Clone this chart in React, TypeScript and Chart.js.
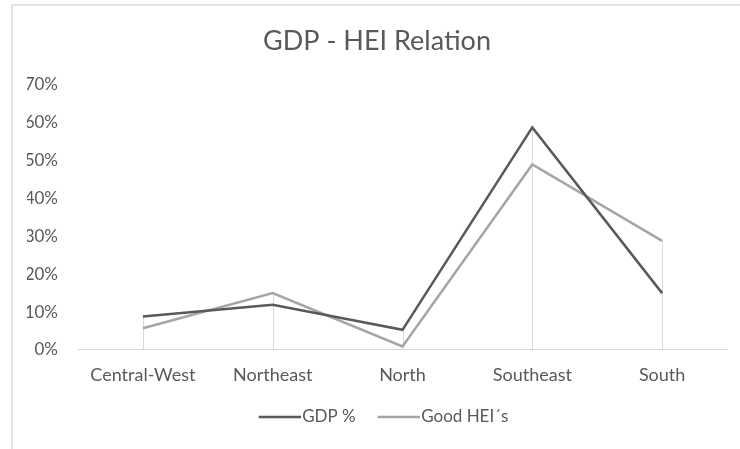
import React, { useEffect, useRef } from "react";
import { Chart, registerables } from "chart.js";

Chart.register(...registerables);

const categories = ["Central-West", "Northeast", "North", "Southeast", "South"];
const gdpValues = [8.8, 11.9, 5.3, 58.8, 15.0];
const heiValues = [5.7, 15.0, 0.9, 49.0, 28.8];
const seriesNames = ["GDP %", "Good HEI´s"];
const seriesColors = ["#595959", "#a5a5a5"];
const titleText = "GDP - HEI Relation";

const FONT = "Lato, 'Open Sans', sans-serif";
const TEXT = "#595959";
const LEGEND_BOX = 48;

function legendLine(color: string) {
  const c = document.createElement("canvas");
  c.width = LEGEND_BOX + 14;
  c.height = 4;
  const g = c.getContext("2d")!;
  g.strokeStyle = color;
  g.lineWidth = 2.5;
  g.beginPath();
  g.moveTo(c.width - 42, 2);
  g.lineTo(c.width, 2);
  g.stroke();
  return c;
}

const dropLines = {
  id: "dropLines",
  beforeDatasetsDraw(chart: any) {
    const { ctx } = chart;
    const y = chart.scales.y;
    const metas = chart.data.datasets.map((_: any, i: number) => chart.getDatasetMeta(i));
    const n = chart.data.labels.length;
    ctx.save();
    ctx.strokeStyle = "#d9d9d9";
    ctx.lineWidth = 1;
    for (let i = 0; i < n; i++) {
      let top = Infinity;
      let x = 0;
      metas.forEach((m: any) => {
        const p = m.data[i];
        if (p) {
          top = Math.min(top, p.y);
          x = p.x;
        }
      });
      const xx = Math.round(x) + 0.5;
      ctx.beginPath();
      ctx.moveTo(xx, top);
      ctx.lineTo(xx, y.getPixelForValue(0));
      ctx.stroke();
    }
    ctx.restore();
  },
};

export default function App() {
  const ref = useRef<HTMLCanvasElement | null>(null);
  useEffect(() => {
    if (!ref.current) return;
    const chart = new Chart(ref.current, {
      type: "line",
      data: {
        labels: categories,
        datasets: [
          {
            label: seriesNames[0],
            data: gdpValues,
            borderColor: seriesColors[0],
            backgroundColor: seriesColors[0],
            borderWidth: 2.5,
            pointRadius: 0,
            pointStyle: legendLine(seriesColors[0]) as any,
            tension: 0,
          },
          {
            label: seriesNames[1],
            data: heiValues,
            borderColor: seriesColors[1],
            backgroundColor: seriesColors[1],
            borderWidth: 2.5,
            pointRadius: 0,
            pointStyle: legendLine(seriesColors[1]) as any,
            tension: 0,
          },
        ],
      },
      options: {
        responsive: false,
        animation: false,
        devicePixelRatio: 1,
        layout: { padding: { left: 27, right: 13, top: 0, bottom: 13.5 } },
        plugins: {
          title: {
            display: true,
            text: titleText,
            color: TEXT,
            font: { family: FONT, size: 27, weight: "normal" },
            padding: { top: 25, bottom: 27.6 },
          },
          legend: {
            position: "bottom",
            labels: {
              color: TEXT,
              font: { family: FONT, size: 17 },
              usePointStyle: true,
              pointStyleWidth: LEGEND_BOX,
              padding: 9,
            },
          },
          tooltip: { enabled: false },
        },
        scales: {
          x: {
            offset: true,
            grid: {
              display: true,
              drawOnChartArea: false,
              drawTicks: false,
              color: "rgba(0,0,0,0)",
            },
            border: { display: true, color: "#d9d9d9", width: 1 },
            ticks: {
              color: TEXT,
              font: { family: FONT, size: 18 },
              padding: 14,
              maxRotation: 0,
              autoSkip: false,
            },
          },
          y: {
            min: 0,
            max: 70,
            afterFit: (s: any) => {
              s.width = 51;
            },
            grid: { display: false, drawTicks: false },
            border: { display: false },
            ticks: {
              stepSize: 10,
              color: TEXT,
              font: { family: FONT, size: 17 },
              padding: 20,
              callback: (v: any) => v + "%",
            },
          },
        },
      },
      plugins: [dropLines],
    });
    return () => chart.destroy();
  }, []);
  return (
    <div style={{ position: "absolute", left: 0, top: 0, width: 740, height: 449, overflow: "hidden", background: "#fff" }}>
      <div
        style={{
          position: "absolute",
          left: 11,
          top: 4,
          width: 740,
          height: 460,
          borderLeft: "2px solid #e3e3e3",
          borderTop: "2px solid #e3e3e3",
        }}
      />
      <canvas ref={ref} width={740} height={449} style={{ position: "absolute", left: 0, top: 0 }} />
    </div>
  );
}
